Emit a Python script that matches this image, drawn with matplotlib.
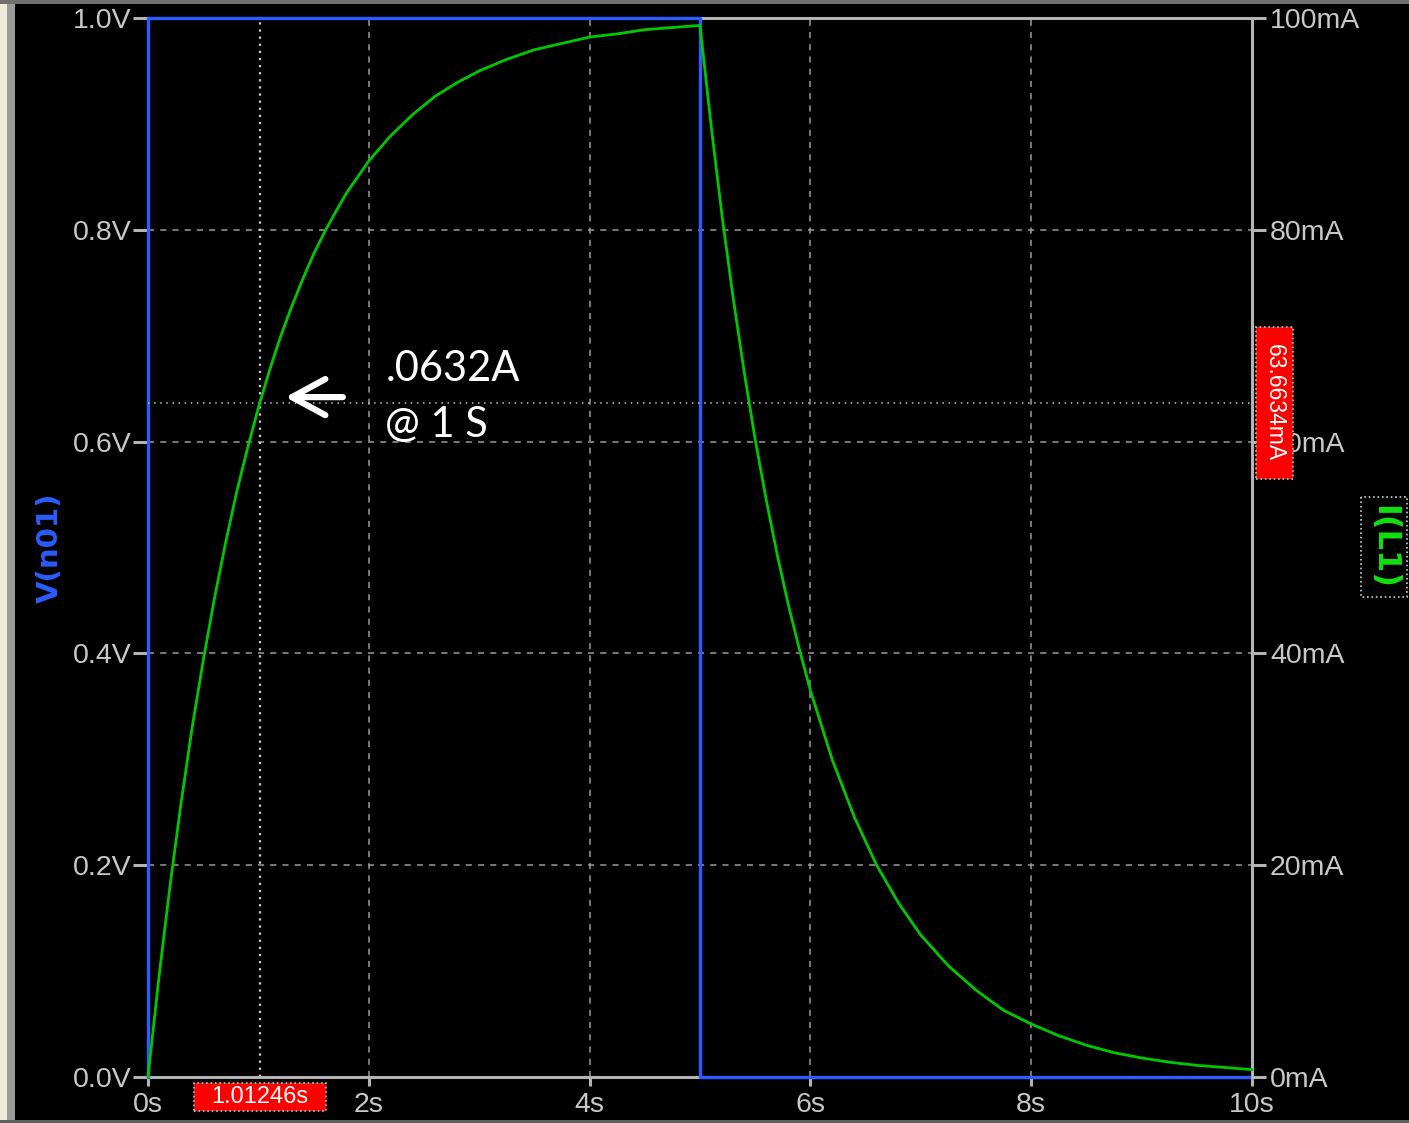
import matplotlib
matplotlib.use("Agg")
import matplotlib.pyplot as plt
import matplotlib.transforms as mtransforms
from matplotlib.patches import Rectangle

# ---- data ----
v_time = [0.0, 0.0, 5.0, 5.0, 10.0]          # s
v_n01 = [0.0, 1.0, 1.0, 0.0, 0.0]            # V

i_time = [0.0, 0.1, 0.2, 0.3, 0.4, 0.5, 0.6, 0.7, 0.8, 0.9, 1.0,
          1.1, 1.2, 1.3, 1.4, 1.5, 1.6, 1.7, 1.8, 1.9, 2.0,
          2.2, 2.4, 2.6, 2.8, 3.0, 3.25, 3.5, 3.75, 4.0, 4.25, 4.5, 4.75, 5.0,
          5.1, 5.2, 5.3, 5.4, 5.5, 5.6, 5.7, 5.8, 5.9, 6.0,
          6.2, 6.4, 6.6, 6.8, 7.0, 7.25, 7.5, 7.75, 8.0, 8.25, 8.5, 8.75,
          9.0, 9.25, 9.5, 9.75, 10.0]
i_l1 = [0.0, 9.5, 18.1, 25.9, 33.0, 39.3, 45.1, 50.3, 55.1, 59.3, 63.2,
        66.7, 69.9, 72.7, 75.3, 77.7, 79.8, 81.7, 83.5, 85.0, 86.5,
        88.9, 90.9, 92.6, 93.9, 95.0, 96.1, 97.0, 97.6, 98.2, 98.5, 98.9, 99.1, 99.3,
        89.9, 81.3, 73.6, 66.6, 60.2, 54.5, 49.3, 44.6, 40.4, 36.5,
        29.9, 24.5, 20.0, 16.4, 13.4, 10.5, 8.2, 6.3, 5.0, 3.9, 3.0, 2.3,
        1.8, 1.4, 1.1, 0.9, 0.7]  # mA

x_ticks = [0, 2, 4, 6, 8, 10]
x_labels = ["0s", "2s", "4s", "6s", "8s", "10s"]
v_ticks = [0.0, 0.2, 0.4, 0.6, 0.8, 1.0]
v_labels = ["0.0V", "0.2V", "0.4V", "0.6V", "0.8V", "1.0V"]
i_ticks = [0, 20, 40, 60, 80, 100]
i_labels = ["0mA", "20mA", "40mA", "60mA", "80mA", "100mA"]

cursor_t = 1.01246
cursor_i = 63.6634
note_lines = [".0632A", "@ 1 S"]

# ---- styling ----
BG = "#000000"
AXC = "#b4b4b4"
TXT = "#c8c8c8"
BLUE = "#2a5cff"
GREEN = "#00c800"
FONT = "Liberation Sans"

W, H = 1409, 1123
fig = plt.figure(figsize=(W / 100, H / 100), dpi=100, facecolor=BG)

# window border decorations
fig.patches.append(Rectangle((0, 0), 7 / W, 1, transform=fig.transFigure,
                             facecolor="#efedda", edgecolor="none", zorder=0))
fig.patches.append(Rectangle((7 / W, 0), 8 / W, 1, transform=fig.transFigure,
                             facecolor="#9a9a9a", edgecolor="none", zorder=0))
fig.patches.append(Rectangle((0, 1 - 4 / H), 1, 4 / H, transform=fig.transFigure,
                             facecolor="#707070", edgecolor="none", zorder=0))
fig.patches.append(Rectangle((0, 0), 1, 3 / H, transform=fig.transFigure,
                             facecolor="#606060", edgecolor="none", zorder=0))

left, right, top, bottom = 148, 1252, 18, 1077
ax = fig.add_axes([left / W, 1 - bottom / H, (right - left) / W, (bottom - top) / H])
ax.set_facecolor(BG)
ax2 = ax.twinx()

ax.set_xlim(0, 10)
ax.set_ylim(0, 1.0)
ax2.set_ylim(0, 100)

for sp in ["left", "top", "bottom"]:
    ax.spines[sp].set_color(AXC)
    ax.spines[sp].set_linewidth(2.2)
ax.spines["right"].set_visible(False)
for sp in ["left", "top", "bottom"]:
    ax2.spines[sp].set_visible(False)
ax2.spines["right"].set_color(AXC)
ax2.spines["right"].set_linewidth(2.2)

ax.set_xticks(x_ticks)
ax.set_xticklabels(x_labels)
ax.set_yticks(v_ticks)
ax.set_yticklabels(v_labels)
ax2.set_yticks(i_ticks)
ax2.set_yticklabels(i_labels)

ax.tick_params(axis="x", colors=AXC, width=2.2, length=6.5, pad=4,
               labelcolor=TXT, labelsize=20.5, labelfontfamily=FONT)
ax.tick_params(axis="y", colors=AXC, width=2.2, length=11, pad=1,
               labelcolor=TXT, labelsize=20.5, labelfontfamily=FONT)
ax2.tick_params(axis="y", colors=AXC, width=2.2, length=10, pad=3,
                labelcolor=TXT, labelsize=20.5, labelfontfamily=FONT)

# grid
for xt in x_ticks[1:-1]:
    ax.axvline(xt, color="#9a9a9a", lw=1.1, ls=(0, (4, 4)), zorder=1)
for yt in v_ticks[1:-1]:
    ax.axhline(yt, color="#9a9a9a", lw=1.1, ls=(0, (4, 4)), zorder=1)

# cursors
ax.axvline(cursor_t, color="#d0d0d0", lw=1.6, ls=(0, (1, 2.2)), zorder=1)
ax2.axhline(cursor_i, color="#c0c0c0", lw=1.1, ls=(0, (1, 3)), zorder=1)

# traces
ax.plot(v_time, v_n01, color=BLUE, lw=2.4, zorder=3, clip_on=False)
ax2.plot(i_time, i_l1, color=GREEN, lw=2.0, zorder=3, clip_on=False,
         solid_joinstyle="round")

# axis labels
fig.text(50 / W, 1 - 548 / H, "V(n01)", color=BLUE, rotation=90, fontsize=21,
         fontweight="bold", family="DejaVu Sans", ha="center", va="center")
fig.text(1384 / W, 1 - 547 / H, "I(L1)", color="#10e010", rotation=-90, fontsize=23,
         fontweight="bold", family="DejaVu Sans", ha="center", va="center",
         bbox=dict(boxstyle="square,pad=0.25", facecolor=BG, edgecolor="#d0d0d0",
                   linestyle=":", linewidth=1.2))

# annotation
ax2.annotate("", xy=(1.22, 64.2), xytext=(1.79, 64.2),
             arrowprops=dict(arrowstyle="->,head_length=1.2,head_width=0.65",
                             color="white", lw=4.5, mutation_scale=20,
                             capstyle="round", joinstyle="round"))
ax2.text(2.15, 66.9, note_lines[0], color="white", fontsize=30, family="Lato",
         ha="left", va="center")
ax2.text(2.15, 61.6, note_lines[1], color="white", fontsize=30, family="Lato",
         ha="left", va="center")

# cursor value boxes
tb = mtransforms.blended_transform_factory(ax.transData, fig.transFigure)
rect_x = Rectangle((cursor_t - 0.6, 1 - 1111 / H), 1.2, 28 / H, transform=tb,
                   facecolor="#ff0000", edgecolor="#a0d0d0", linestyle=":",
                   linewidth=1.2, zorder=5)
fig.patches.append(rect_x)
fig.text(cursor_t, 1 - 1097 / H, f"{cursor_t:.5f}s", transform=tb, color="white",
         fontsize=17, family=FONT, ha="center", va="center", zorder=6)

ti = mtransforms.blended_transform_factory(fig.transFigure, ax2.transData)
rect_y = Rectangle((1256 / W, cursor_i - 7.2), 37 / W, 14.4, transform=ti,
                   facecolor="#ff0000", edgecolor="#a0d0d0", linestyle=":",
                   linewidth=1.2, zorder=5)
fig.patches.append(rect_y)
fig.text(1274 / W, cursor_i, f"{cursor_i:.4f}mA", transform=ti, color="white",
         fontsize=16.5, family=FONT, rotation=-90, ha="center", va="center", zorder=6)

fig.savefig("out.png", dpi=100, facecolor=BG)
